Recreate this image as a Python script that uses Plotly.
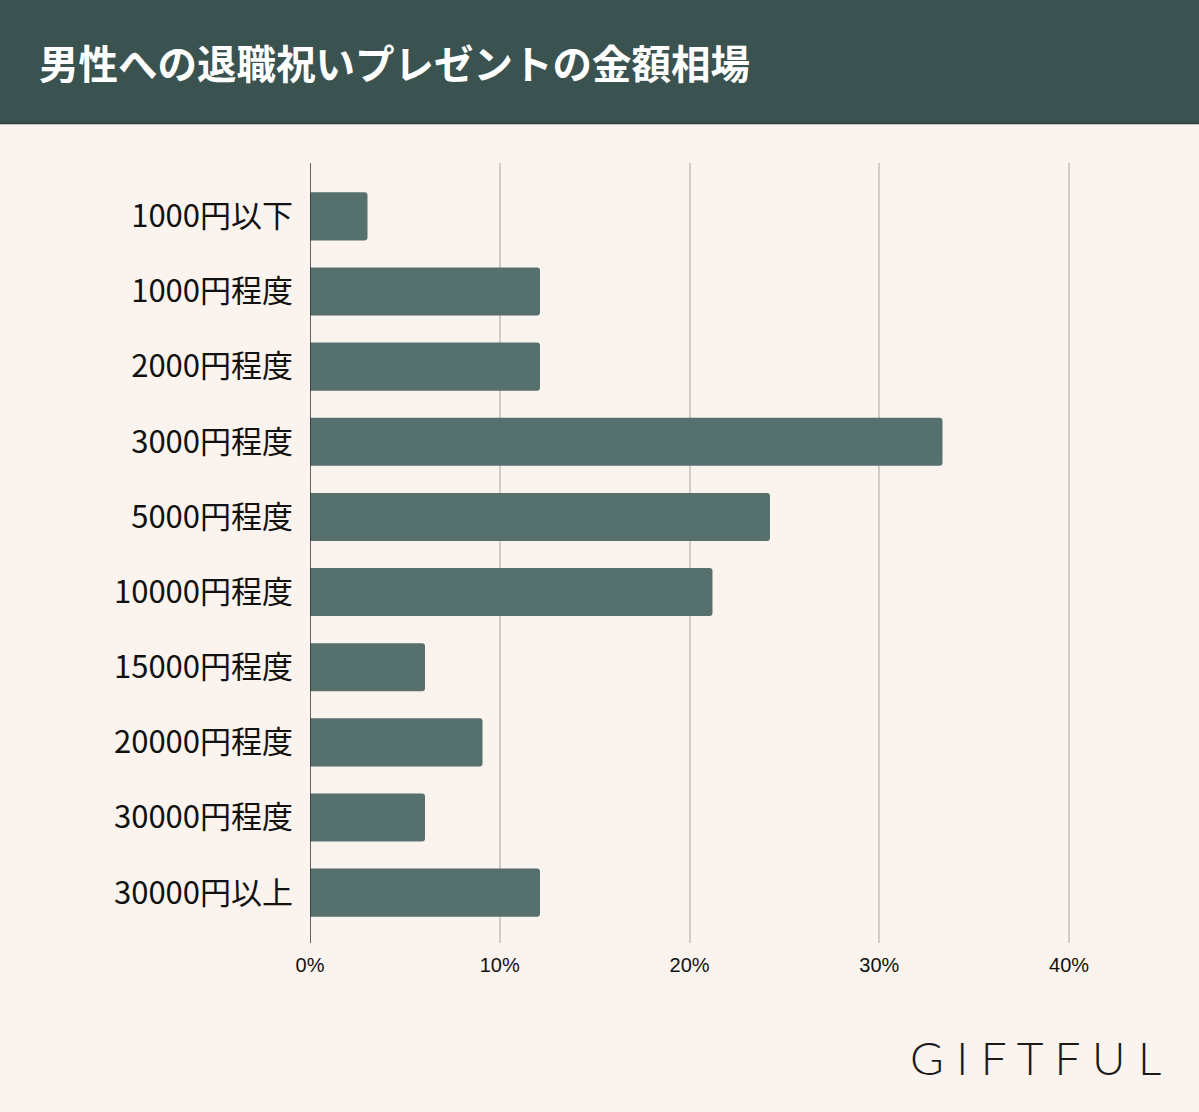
import plotly.graph_objects as go

categories = ["1000円以下", "1000円程度", "2000円程度", "3000円程度", "5000円程度",
              "10000円程度", "15000円程度", "20000円程度", "30000円程度", "30000円以上"]
values = [3.03, 12.12, 12.12, 33.33, 24.24, 21.21, 6.06, 9.09, 6.06, 12.12]
x_ticks = [0, 10, 20, 30, 40]
x_tick_labels = ["0%", "10%", "20%", "30%", "40%"]
title_text = "男性への退職祝いプレゼントの金額相場"

W, H = 1199, 1112
L, R, T, B = 310, 1107, 163, 943

def px(xp):
    return (xp - L) / (R - L)

def py(yp):
    return (B - yp) / (B - T)

fig = go.Figure(go.Bar(
    y=categories, x=values, orientation="h",
    marker=dict(color="#56706d", cornerradius=3, line=dict(width=0)),
    hoverinfo="skip",
))

fig.update_layout(
    width=W, height=H,
    margin=dict(l=L, r=W - R, t=T, b=H - B, pad=0),
    paper_bgcolor="#fbf3ee", plot_bgcolor="#fbf3ee",
    bargap=0.36,
    showlegend=False,
    font=dict(family="Noto Sans CJK JP", color="#111111"),
    xaxis=dict(range=[0, 42], tickvals=x_ticks, ticktext=x_tick_labels,
               showgrid=True, gridcolor="#d3cbc7", gridwidth=2,
               zeroline=False, showline=False, ticks="",
               tickfont=dict(size=20, family="Liberation Sans", color="#111111"),
               ticklabelstandoff=8),
    yaxis=dict(categoryorder="array", categoryarray=categories,
               range=[9.67, -0.71], showgrid=False, zeroline=False,
               showline=False, ticks="", ticklabelstandoff=16,
               tickfont=dict(size=31, family="Noto Sans CJK JP", color="#111111")),
    shapes=[
        dict(type="rect", xref="paper", yref="paper", x0=px(-5), x1=px(W + 5),
             y0=py(123), y1=py(-5), fillcolor="#3a5250", line=dict(width=0), layer="above"),
        dict(type="line", xref="paper", yref="paper", x0=px(-5), x1=px(W + 5),
             y0=py(123.5), y1=py(123.5), line=dict(color="#2c403e", width=1.5)),
        dict(type="line", xref="x", yref="paper", x0=0, x1=0, y0=0, y1=1,
             line=dict(color="#333333", width=1.5), layer="above"),
    ],
    annotations=[
        dict(text="<b>" + title_text + "</b>", xref="paper", yref="paper",
             x=px(37), y=py(61), xanchor="left", yanchor="middle", showarrow=False,
             font=dict(size=39.5, color="#ffffff", family="Noto Sans CJK JP")),
        dict(text="G I F T F U L", xref="paper", yref="paper",
             x=px(1163), y=py(1057), xanchor="right", yanchor="middle", showarrow=False,
             font=dict(size=46, color="#1a1a1a", family="Lato", weight=300)),
    ],
)

fig.write_html("out.html", config={"displayModeBar": False},
               post_script="document.body.style.margin='0';")
